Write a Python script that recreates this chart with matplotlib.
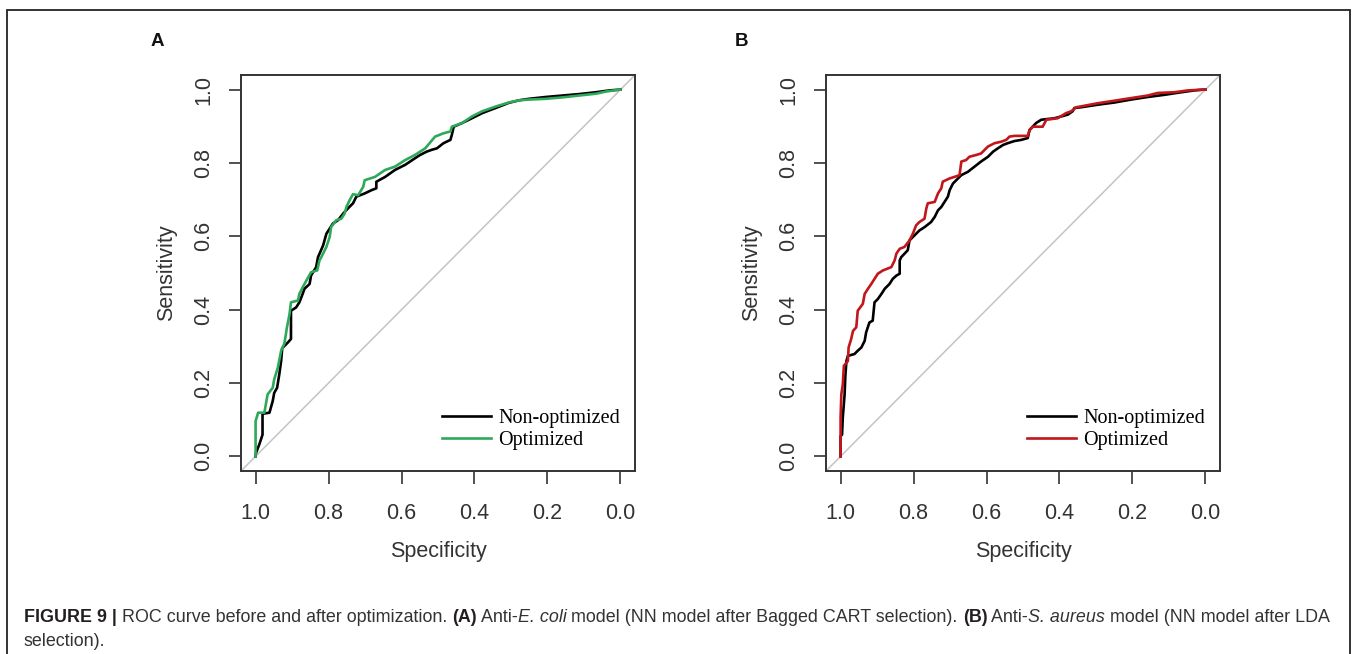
import matplotlib
matplotlib.use("Agg")
import matplotlib.pyplot as plt
from matplotlib.patches import Rectangle

# panel A: anti-E. coli model
a_spec_non = [1.0, 0.999, 0.990, 0.981, 0.981, 0.962, 0.953, 0.949, 0.941, 0.935, 0.930, 0.927,
              0.912, 0.903, 0.903, 0.889, 0.880, 0.871, 0.866, 0.852, 0.848, 0.834, 0.829, 0.815,
              0.806, 0.788, 0.774, 0.760, 0.747, 0.733, 0.724, 0.701, 0.682, 0.669, 0.669, 0.645,
              0.618, 0.590, 0.563, 0.549, 0.531, 0.517, 0.503, 0.485, 0.466, 0.462, 0.457, 0.434,
              0.407, 0.379, 0.342, 0.306, 0.278, 0.251, 0.205, 0.159, 0.113, 0.067, 0.030, 0.003, 0.0]
a_sens_non = [0.0, 0.009, 0.032, 0.059, 0.116, 0.119, 0.151, 0.173, 0.187, 0.224, 0.260, 0.295,
              0.310, 0.320, 0.397, 0.406, 0.420, 0.443, 0.457, 0.470, 0.493, 0.516, 0.543, 0.575,
              0.607, 0.635, 0.644, 0.662, 0.676, 0.690, 0.708, 0.717, 0.726, 0.731, 0.749, 0.762,
              0.781, 0.795, 0.813, 0.822, 0.831, 0.836, 0.840, 0.854, 0.863, 0.877, 0.899, 0.909,
              0.922, 0.936, 0.950, 0.964, 0.971, 0.975, 0.980, 0.984, 0.988, 0.993, 0.998, 1.0, 1.0]
a_spec_opt = [1.0, 1.0, 1.0, 0.993, 0.976, 0.967, 0.953, 0.949, 0.939, 0.930, 0.921, 0.914, 0.907,
              0.903, 0.884, 0.880, 0.871, 0.861, 0.848, 0.831, 0.825, 0.820, 0.806, 0.797, 0.793,
              0.779, 0.765, 0.756, 0.751, 0.742, 0.733, 0.719, 0.705, 0.701, 0.673, 0.645, 0.618,
              0.590, 0.563, 0.535, 0.508, 0.485, 0.466, 0.462, 0.434, 0.407, 0.379, 0.342, 0.306,
              0.278, 0.251, 0.205, 0.159, 0.113, 0.067, 0.039, 0.003, 0.0]
a_sens_opt = [0.0, 0.009, 0.096, 0.119, 0.119, 0.169, 0.187, 0.210, 0.242, 0.288, 0.308, 0.352, 0.388,
              0.420, 0.425, 0.443, 0.461, 0.479, 0.502, 0.507, 0.534, 0.543, 0.571, 0.598, 0.625,
              0.644, 0.648, 0.662, 0.680, 0.699, 0.715, 0.712, 0.735, 0.753, 0.762, 0.781, 0.790,
              0.808, 0.822, 0.840, 0.872, 0.881, 0.886, 0.899, 0.909, 0.927, 0.941, 0.954, 0.965,
              0.971, 0.973, 0.975, 0.979, 0.984, 0.989, 0.995, 1.0, 1.0]

# panel B: anti-S. aureus model
b_spec_non = [1.0, 1.0, 1.0, 0.996, 0.994, 0.989, 0.987, 0.984, 0.980, 0.962, 0.953, 0.943, 0.934,
              0.930, 0.921, 0.912, 0.907, 0.898, 0.888, 0.879, 0.866, 0.857, 0.847, 0.838, 0.838,
              0.834, 0.816, 0.811, 0.797, 0.784, 0.770, 0.752, 0.742, 0.733, 0.724, 0.715, 0.706,
              0.701, 0.692, 0.683, 0.669, 0.651, 0.633, 0.615, 0.596, 0.582, 0.569, 0.555, 0.542,
              0.523, 0.505, 0.487, 0.482, 0.464, 0.450, 0.414, 0.395, 0.377, 0.364, 0.359, 0.341,
              0.295, 0.249, 0.204, 0.158, 0.112, 0.066, 0.030, 0.007, 0.0]
b_sens_non = [0.0, 0.018, 0.055, 0.059, 0.105, 0.169, 0.219, 0.260, 0.274, 0.279, 0.288, 0.297, 0.315,
              0.338, 0.365, 0.370, 0.420, 0.429, 0.443, 0.457, 0.470, 0.484, 0.493, 0.498, 0.534,
              0.543, 0.562, 0.589, 0.603, 0.616, 0.625, 0.639, 0.653, 0.671, 0.680, 0.694, 0.708,
              0.726, 0.744, 0.753, 0.767, 0.776, 0.790, 0.804, 0.817, 0.831, 0.840, 0.849, 0.854,
              0.860, 0.863, 0.868, 0.890, 0.909, 0.918, 0.922, 0.927, 0.932, 0.941, 0.950, 0.952,
              0.959, 0.965, 0.973, 0.980, 0.986, 0.993, 0.998, 1.0, 1.0]
b_spec_opt = [1.0, 1.0, 1.0, 1.0, 0.998, 0.994, 0.991, 0.980, 0.978, 0.971, 0.966, 0.957, 0.953,
              0.939, 0.934, 0.925, 0.916, 0.907, 0.898, 0.884, 0.861, 0.852, 0.847, 0.838, 0.825,
              0.811, 0.802, 0.793, 0.784, 0.770, 0.765, 0.761, 0.742, 0.733, 0.724, 0.720, 0.701,
              0.688, 0.674, 0.669, 0.656, 0.647, 0.628, 0.615, 0.605, 0.596, 0.578, 0.560, 0.546,
              0.537, 0.523, 0.487, 0.482, 0.473, 0.446, 0.436, 0.405, 0.382, 0.368, 0.354, 0.295,
              0.249, 0.204, 0.158, 0.131, 0.085, 0.048, 0.007, 0.0]
b_sens_opt = [0.0, 0.009, 0.059, 0.105, 0.169, 0.196, 0.247, 0.260, 0.297, 0.320, 0.342, 0.352, 0.397,
              0.416, 0.443, 0.457, 0.470, 0.484, 0.498, 0.507, 0.516, 0.534, 0.553, 0.566, 0.571,
              0.589, 0.607, 0.630, 0.639, 0.648, 0.676, 0.690, 0.694, 0.717, 0.731, 0.749, 0.758,
              0.762, 0.767, 0.804, 0.808, 0.817, 0.822, 0.826, 0.836, 0.845, 0.854, 0.858, 0.863,
              0.872, 0.874, 0.874, 0.890, 0.899, 0.899, 0.918, 0.922, 0.936, 0.941, 0.952, 0.963,
              0.970, 0.977, 0.984, 0.991, 0.993, 0.998, 1.0, 1.0]

ticks = [1.0, 0.8, 0.6, 0.4, 0.2, 0.0]
tick_labels = ["1.0", "0.8", "0.6", "0.4", "0.2", "0.0"]
legend_labels = ["Non-optimized", "Optimized"]

W, H = 1357, 654
fig = plt.figure(figsize=(W / 100, H / 100), dpi=100)
plt.rcParams['font.family'] = ['Liberation Sans', 'DejaVu Sans']

# outer frame of the figure
fig.patches.append(Rectangle((7 / W, -0.01), 1343 / W, 1.01 - 10 / H, transform=fig.transFigure,
                             fill=False, edgecolor='#222222', linewidth=1.3))

panels = [
    ("A", 241, a_spec_non, a_sens_non, a_spec_opt, a_sens_opt, '#2ea85a'),
    ("B", 826, b_spec_non, b_sens_non, b_spec_opt, b_sens_opt, '#c0161c'),
]

txt_col = '#333333'
for letter, left_px, sx1, sy1, sx2, sy2, col in panels:
    ax = fig.add_axes([left_px / W, 1 - 471 / H, 394 / W, 396 / H])
    ax.plot([1.04, -0.04], [-0.04, 1.04], color='#c4c4c4', linewidth=1.1)
    ax.plot(sx1, sy1, color='black', linewidth=1.9, label=legend_labels[0])
    ax.plot(sx2, sy2, color=col, linewidth=1.9, label=legend_labels[1])
    ax.set_xlim(1.04, -0.04)
    ax.set_ylim(-0.04, 1.04)
    ax.set_xticks(ticks)
    ax.set_xticklabels(tick_labels)
    ax.set_yticks(ticks)
    ax.set_yticklabels(tick_labels, rotation=90, va='center')
    ax.tick_params(direction='out', length=9, width=1.2, colors='#333333',
                   labelsize=15.5, labelcolor=txt_col)
    ax.tick_params(axis='x', pad=14)
    ax.tick_params(axis='y', pad=10)
    for s in ax.spines.values():
        s.set_color('#333333')
        s.set_linewidth(1.4)
    ax.set_xlabel("Specificity", fontsize=15.5, color=txt_col, labelpad=12)
    ax.set_ylabel("Sensitivity", fontsize=15.5, color=txt_col, labelpad=12)
    ax.legend(loc='lower right', bbox_to_anchor=(0.962, 0.053), frameon=False,
              prop={'family': 'Liberation Serif', 'size': 14.5}, handlelength=2.45,
              handletextpad=0.35, labelspacing=0.15, borderpad=0, borderaxespad=0)
    fig.text((left_px - 84) / W, 1 - 42 / H, letter, fontsize=13.5, fontweight='bold',
             ha='center', va='center', color='#111111')

# caption with mixed styles
line1 = [("FIGURE 9 | ", 'bold', 'normal'),
         ("ROC curve before and after optimization. ", 'normal', 'normal'),
         ("(A)", 'bold', 'normal'), (" Anti-", 'normal', 'normal'),
         ("E. coli", 'normal', 'italic'),
         (" model (NN model after Bagged CART selection). ", 'normal', 'normal'),
         ("(B)", 'bold', 'normal'), (" Anti-", 'normal', 'normal'),
         ("S. aureus", 'normal', 'italic'),
         (" model (NN model after LDA", 'normal', 'normal')]
line2 = [("selection).", 'normal', 'normal')]

renderer = fig.canvas.get_renderer()
cap_size = 12.9


def draw_line(pieces, x0, y0, size):
    x = x0
    for s, w, st in pieces:
        t = fig.text(x / W, 1 - y0 / H, s, fontsize=size, fontweight=w, fontstyle=st,
                     color='#231f20' if w == 'bold' else '#333333', va='center', ha='left')
        bb = t.get_window_extent(renderer)
        x += bb.width
    return x


draw_line(line1, 24, 618, cap_size)
draw_line(line2, 24, 641, cap_size)

fig.savefig("out.png", dpi=100)
